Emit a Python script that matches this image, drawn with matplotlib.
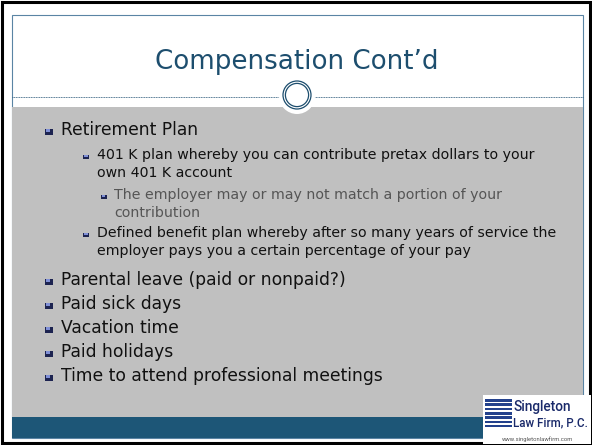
import matplotlib
matplotlib.use('Agg')
import matplotlib.pyplot as plt
from matplotlib.patches import Rectangle, Circle

# slide content
title = "Compensation Cont\u2019d"
levels = [1, 2, 3, 2, 1, 1, 1, 1, 1]
items = [
    ["Retirement Plan"],
    ["401 K plan whereby you can contribute pretax dollars to your",
     "own 401 K account"],
    ["The employer may or may not match a portion of your",
     "contribution"],
    ["Defined benefit plan whereby after so many years of service the",
     "employer pays you a certain percentage of your pay"],
    ["Parental leave (paid or nonpaid?)"],
    ["Paid sick days"],
    ["Vacation time"],
    ["Paid holidays"],
    ["Time to attend professional meetings"],
]
logo_lines = ["Singleton", "Law Firm, P.C."]
logo_url = "www.singletonlawfirm.com"

W, H = 592, 445
BLUE = '#1d4e6e'
BAND = '#1d5677'
GRAY = '#c0c0c0'

# per level: bullet x, text x, font size, text colour, bullet size
style = {
    1: dict(bx=48.5, tx=61, fs=12.3, col='#111111', bs=8),
    2: dict(bx=86, tx=97, fs=10.2, col='#111111', bs=6),
    3: dict(bx=103.5, tx=114, fs=10.2, col='#555555', bs=6),
}
line_h = {1: 24, 2: 18, 3: 18}
# gap from last line of one item to first line of next, by (level, next level)
gap = {(1, 1): 24, (1, 2): 25, (2, 3): 22, (3, 2): 20, (2, 1): 29}

fig = plt.figure(figsize=(W / 100, H / 100), dpi=100)
ax = fig.add_axes([0, 0, 1, 1])
ax.set_xlim(0, W)
ax.set_ylim(H, 0)
ax.axis('off')

# outer border and slide frame
ax.add_patch(Rectangle((2, 2), W - 4, H - 4, fill=False, ec='black', lw=2.2))
ax.add_patch(Rectangle((12, 15), 571, 423, fill=False, ec='#5a84a4', lw=0.8))
ax.add_patch(Rectangle((12, 107), 571, 310, color=GRAY, lw=0))
ax.add_patch(Rectangle((12, 417), 571, 21, color=BAND, lw=0))

# title and divider
ax.text(297, 62, title, ha='center', va='center', fontsize=18.8,
        color=BLUE, family='DejaVu Sans')
ax.plot([12, 583], [97, 97], color='#2c5a7a', lw=0.6, ls=(0, (1.2, 0.8)))
ax.add_patch(Circle((297, 96), 18, color='white', lw=0, zorder=3))
ax.add_patch(Circle((297, 95), 14, fill=False, ec=BLUE, lw=0.9, zorder=4))
ax.add_patch(Circle((297, 95), 11.6, fill=False, ec=BLUE, lw=0.9, zorder=4))


def bullet(x, y, s):
    ax.add_patch(Rectangle((x - s / 2, y - s / 2 + 1), s, s * 0.8,
                           color='#1c2350', lw=0, zorder=5))
    ax.add_patch(Rectangle((x - s / 2 + 1, y - s / 2 + 1), s * 0.6, s * 0.4,
                           color='#7f8fd6', lw=0, zorder=6))


y = 130
for i, (lev, lines) in enumerate(zip(levels, items)):
    st = style[lev]
    bullet(st['bx'], y + 1.5, st['bs'])
    for j, ln in enumerate(lines):
        ax.text(st['tx'], y + j * line_h[lev], ln, ha='left', va='center',
                fontsize=st['fs'], color=st['col'], family='DejaVu Sans')
    y += (len(lines) - 1) * line_h[lev]
    if i + 1 < len(levels):
        y += gap[(lev, levels[i + 1])]

# logo box
logo_font = ['Roboto', 'DejaVu Sans']
ax.add_patch(Rectangle((483, 395), 108, 49, color='white', lw=0, zorder=7))
for k in range(7):
    ax.add_patch(Rectangle((485, 399 + k * 4.3), 27, 2.6, color='#23418c',
                           lw=0, zorder=8))
ax.text(513, 407, logo_lines[0], ha='left', va='center', fontsize=9.8,
        color='#1a2a6a', family=logo_font, fontweight='medium', zorder=9)
ax.text(513, 423, logo_lines[1], ha='left', va='center', fontsize=8.4,
        color='#1a2a6a', family=logo_font, fontweight='medium', zorder=9)
ax.text(537, 439, logo_url, ha='center', va='center', fontsize=4.2,
        color='#555555', family=logo_font, zorder=9)

fig.savefig('out.png', dpi=100)
